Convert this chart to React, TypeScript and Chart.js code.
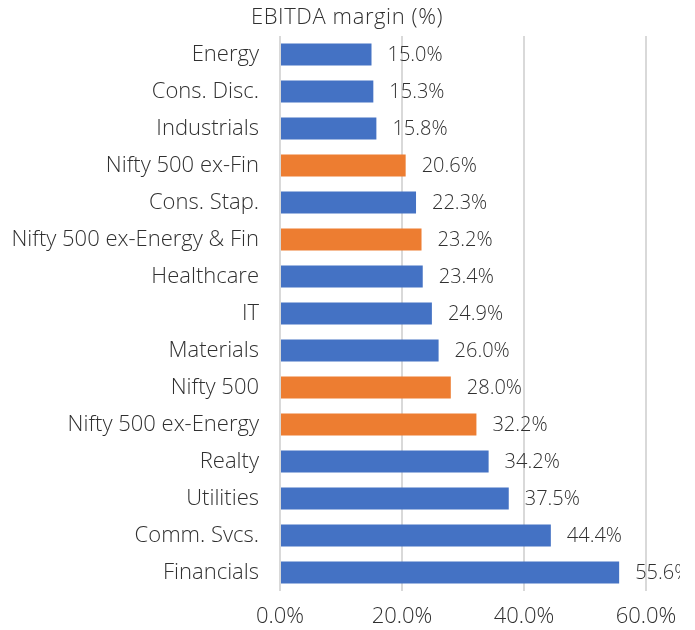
import React, { useEffect, useRef } from "react";
import { Chart, registerables } from "chart.js";

Chart.register(...registerables);

const categories = [
  "Energy",
  "Cons. Disc.",
  "Industrials",
  "Nifty 500 ex-Fin",
  "Cons. Stap.",
  "Nifty 500 ex-Energy & Fin",
  "Healthcare",
  "IT",
  "Materials",
  "Nifty 500",
  "Nifty 500 ex-Energy",
  "Realty",
  "Utilities",
  "Comm. Svcs.",
  "Financials",
];
const margins = [15.0, 15.3, 15.8, 20.6, 22.3, 23.2, 23.4, 24.9, 26.0, 28.0, 32.2, 34.2, 37.5, 44.4, 55.6];
const isIndex = [false, false, false, true, false, true, false, false, false, true, true, false, false, false, false];
const titleText = "EBITDA margin (%)";

const BLUE = "#4472C4";
const ORANGE = "#ED7D31";
const TEXT = "#303030";
const FONT = "'Open Sans', 'Noto Sans', sans-serif";

export default function App() {
  const ref = useRef<HTMLCanvasElement>(null);
  useEffect(() => {
    document.body.style.margin = "0";
    const labelPlugin = {
      id: "labels",
      afterDatasetsDraw(chart: any) {
        const ctx = chart.ctx;
        const meta = chart.getDatasetMeta(0);
        ctx.save();
        ctx.font = `300 20px ${FONT}`;
        ctx.fillStyle = TEXT;
        ctx.textAlign = "left";
        ctx.textBaseline = "middle";
        meta.data.forEach((bar: any, i: number) => {
          ctx.fillText(margins[i].toFixed(1) + "%", bar.x + 16, bar.y + 1);
        });
        ctx.restore();
      },
      afterDraw(chart: any) {
        const ctx = chart.ctx;
        ctx.save();
        ctx.font = `300 22px ${FONT}`;
        (ctx as any).letterSpacing = "0.6px";
        ctx.fillStyle = TEXT;
        ctx.textAlign = "center";
        ctx.textBaseline = "middle";
        ctx.fillText(titleText, 347, 18);
        ctx.restore();
      },
    };
    const chart = new Chart(ref.current!, {
      type: "bar",
      data: {
        labels: categories,
        datasets: [
          {
            data: margins,
            backgroundColor: isIndex.map((b) => (b ? ORANGE : BLUE)),
            barPercentage: 0.6,
            categoryPercentage: 1,
          },
        ],
      },
      options: {
        indexAxis: "y",
        animation: false,
        responsive: false,
        layout: { padding: { top: 36, right: 34, left: 0, bottom: 0 } },
        plugins: { legend: { display: false }, tooltip: { enabled: false } },
        scales: {
          x: {
            min: 0,
            max: 60,
            ticks: {
              stepSize: 20,
              callback: (v: any) => Number(v).toFixed(1) + "%",
              color: TEXT,
              font: { family: FONT, size: 22, weight: "300" },
              padding: 13,
            },
            grid: { color: "#D9D9D9", lineWidth: 2, drawTicks: false },
            border: { display: false },
            afterFit: (s: any) => {
              s.height = 39;
              s.paddingLeft = 0;
              s.paddingRight = 0;
            },
          },
          y: {
            ticks: {
              color: TEXT,
              font: { family: FONT, size: 22, weight: "300" },
              padding: 21,
            },
            grid: { display: false, drawTicks: false },
            border: { display: false },
            afterFit: (s: any) => {
              s.width = 280;
              s.paddingTop = 0;
              s.paddingBottom = 0;
            },
          },
        },
      },
      plugins: [labelPlugin],
    });
    return () => chart.destroy();
  }, []);
  return <canvas ref={ref} width={680} height={630} style={{ display: "block" }} />;
}
